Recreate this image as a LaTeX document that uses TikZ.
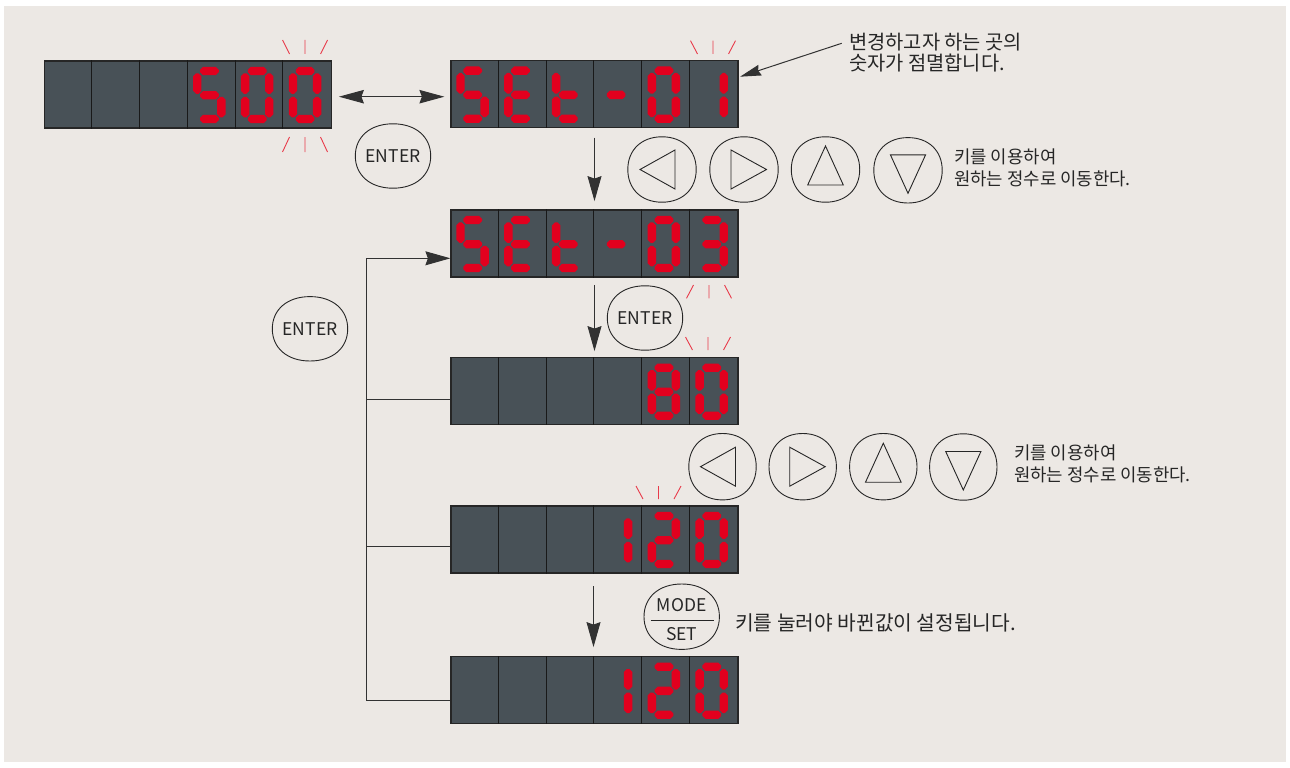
\documentclass[tikz,border=0pt]{standalone}
\usepackage{fontspec}
\setmainfont{Noto Sans CJK KR}
\usetikzlibrary{arrows.meta,calc}
\definecolor{bgc}{RGB}{236,232,228}
\definecolor{dispc}{RGB}{72,81,87}
\definecolor{segc}{RGB}{226,0,30}
\definecolor{blinkc}{RGB}{232,58,74}
\definecolor{inkc}{RGB}{38,38,38}
\definecolor{lnc}{RGB}{50,50,50}

% seven-segment pieces (chamfered bars)
\newcommand\hsg[3]{\fill[segc] (#1,#3-1.2) -- (#1+3,#3-4.2) -- (#2-3,#3-4.2) -- (#2,#3-1.2) -- (#2,#3+1.2) -- (#2-3,#3+4.2) -- (#1+3,#3+4.2) -- (#1,#3+1.2) -- cycle;}
\newcommand\vsg[3]{\fill[segc] (#1-1.2,#2) -- (#1+1.2,#2) -- (#1+4.2,#2+3) -- (#1+4.2,#3-3) -- (#1+1.2,#3) -- (#1-1.2,#3) -- (#1-4.2,#3-3) -- (#1-4.2,#2+3) -- cycle;}
\newcommand\segA{\hsg{\dcx+12.3}{\dcx+31}{\dcy+10}}
\newcommand\segG{\hsg{\dcx+12.3}{\dcx+31}{\dcy+34.2}}
\newcommand\segD{\hsg{\dcx+12.3}{\dcx+31}{\dcy+58}}
\newcommand\segF{\vsg{\dcx+9.5}{\dcy+12.3}{\dcy+32.8}}
\newcommand\segE{\vsg{\dcx+9.5}{\dcy+35.8}{\dcy+56.3}}
\newcommand\segB{\vsg{\dcx+33.6}{\dcy+12.3}{\dcy+32.8}}
\newcommand\segC{\vsg{\dcx+33.6}{\dcy+35.8}{\dcy+56.3}}
\def\dgS{A,F,G,C,D}
\def\dgE{A,F,G,E,D}
\def\dgt{F,E,G,D}
\def\dgm{G}
\def\dgz{A,B,C,D,E,F}
\def\dgo{B,C}
\def\dgth{A,B,G,C,D}
\def\dgei{A,B,C,D,E,F,G}
\def\dgtw{A,B,G,E,D}
% #1 display left, #2 display top, #3 cell, #4 segment list macro
\newcommand\dig[4]{\pgfmathsetmacro\dcx{#1+(#3-1)*47.83}\def\dcy{#2}%
  \foreach \s in #4 {\csname seg\s\endcsname}}
% display node: name, centre x, centre y
\newcommand\display[3]{\node[dispbox] (#1) at (#2,#3) {};
  \foreach \k in {1,...,5} \draw[divl] ([xshift={\k*47.83pt}]#1.north west) -- ([xshift={\k*47.83pt}]#1.south west);}
% blink marks: centre x, near y, far y
\newcommand\blink[3]{\draw[blk] (#1-15.5,#2) -- (#1-22.5,#3) (#1,#2) -- (#1,#3) (#1+15.5,#2) -- (#1+22.5,#3);}
% squircle outline round a node
\def\sqk{0.6}
\newcommand\squircle[1]{\draw[sqline] (#1.east)
  .. controls ($(#1.east)!\sqk!(#1.north east)$) and ($(#1.north)!\sqk!(#1.north east)$) .. (#1.north)
  .. controls ($(#1.north)!\sqk!(#1.north west)$) and ($(#1.west)!\sqk!(#1.north west)$) .. (#1.west)
  .. controls ($(#1.west)!\sqk!(#1.south west)$) and ($(#1.south)!\sqk!(#1.south west)$) .. (#1.south)
  .. controls ($(#1.south)!\sqk!(#1.south east)$) and ($(#1.east)!\sqk!(#1.south east)$) .. (#1.east) -- cycle;}

\tikzset{
  dispbox/.style={draw=black!85, line width=1.2pt, fill=dispc, minimum width=287pt, minimum height=67pt, inner sep=0pt},
  divl/.style={draw=black!90, line width=0.9pt},
  blk/.style={draw=blinkc, line width=0.9pt},
  ln/.style={draw=lnc, line width=1pt},
  arr/.style={ln, -{Stealth[length=25pt,width=14pt,inset=2.5pt]}},
  arrtwo/.style={ln, {Stealth[length=25pt,width=13.5pt,inset=2.5pt]}-{Stealth[length=25pt,width=13.5pt,inset=2.5pt]}},
  arrc/.style={ln, -{Stealth[length=21pt,width=11pt,inset=2pt]}},
  sqline/.style={draw=inkc, line width=0.9pt},
  btn/.style={minimum width=75pt, minimum height=64pt, inner sep=0pt, text=inkc, font=\fontsize{17.5}{17.5}\selectfont},
  akey/.style={minimum width=68pt, minimum height=65pt, inner sep=0pt},
  tri/.style={draw=inkc, line width=0.9pt, line join=miter},
  txt/.style={anchor=west, align=left, inner sep=0pt, text=inkc},
  tl/.pic={\draw[tri] (-22,0) -- (13,-19.5) -- (13,19.5) -- cycle;},
  tr/.pic={\draw[tri] (22.5,0) -- (-13,-19.5) -- (-13,19.5) -- cycle;},
  tu/.pic={\draw[tri] (0,-23.5) -- (17.8,15.5) -- (-17.8,15.5) -- cycle;},
  td/.pic={\draw[tri] (0,23) -- (17.6,-15.5) -- (-17.6,-15.5) -- cycle;},
}

\begin{document}
\begin{tikzpicture}[x=1pt,y=-1pt]
\useasboundingbox (0,0) rectangle (1290,768);
\fill[white] (0,0) rectangle (1290,768);
\fill[bgc] (4,6) rectangle (1286,762);

% displays
\display{d1}{187.8}{94.5}
\display{d2}{594.5}{94.2}
\display{d3}{594.5}{243.5}
\display{d4}{594.5}{391.2}
\display{d5}{594.5}{539.5}
\display{d6}{594.5}{690.2}

% digits
\dig{44.3}{61}{4}{\dgS}\dig{44.3}{61}{5}{\dgz}\dig{44.3}{61}{6}{\dgz}
\dig{451}{60.7}{1}{\dgS}\dig{451}{60.7}{2}{\dgE}\dig{451}{60.7}{3}{\dgt}\dig{451}{60.7}{4}{\dgm}\dig{451}{60.7}{5}{\dgz}\dig{451}{60.7}{6}{\dgo}
\dig{451}{210}{1}{\dgS}\dig{451}{210}{2}{\dgE}\dig{451}{210}{3}{\dgt}\dig{451}{210}{4}{\dgm}\dig{451}{210}{5}{\dgz}\dig{451}{210}{6}{\dgth}
\dig{451}{357.7}{5}{\dgei}\dig{451}{357.7}{6}{\dgz}
\dig{451}{506}{4}{\dgo}\dig{451}{506}{5}{\dgtw}\dig{451}{506}{6}{\dgz}
\dig{451}{656.7}{4}{\dgo}\dig{451}{656.7}{5}{\dgtw}\dig{451}{656.7}{6}{\dgz}

% blinking marks
\blink{305}{54}{40}
\blink{305}{137}{152}
\blink{713}{54}{40.7}
\blink{709}{285}{298.3}
\blink{708}{350}{337}
\blink{658.5}{499}{486}

% arrows between displays
\draw[arrtwo, shorten <=7pt, shorten >=6pt] ([yshift=-2.2pt]d1.east) -- ([yshift=-2.5pt]d2.west);
\draw[arr, shorten <=9.4pt, shorten >=8.3pt] (d2.south) -- (d3.north);
\draw[arr, shorten <=7.3pt, shorten >=6pt] (d3.south) -- (d4.north);
\draw[arr, shorten <=12.7pt, shorten >=9pt] ([xshift=-1pt]d5.south) -- ([xshift=-1pt]d6.north);

% loop back
\coordinate (lt) at (366,258.3);
\coordinate (l4) at (366,399);
\coordinate (l5) at (366,546);
\coordinate (lb) at (366,700);
\draw[ln] (lb) -- (lt);
\draw[arr] (lt) -- (lt -| d3.west);
\draw[ln] (l4) -- (l4 -| d4.west);
\draw[ln] (l5) -- (l5 -| d5.west);
\draw[ln] (lb) -- (lb -| d6.west);

% buttons
\node[btn] (e1) at (393,156) {ENTER};
\node[btn] (e2) at (310,328.8) {ENTER};
\node[btn] (e3) at (645,318) {ENTER};
\node[btn, minimum height=65pt] (ms) at (681.7,616.7) {};
\squircle{e1}\squircle{e2}\squircle{e3}\squircle{ms}
\node[inner sep=0pt, text=inkc, font=\fontsize{17.5}{17.5}\selectfont] (msa) at (681.7,605) {MODE};
\node[inner sep=0pt, text=inkc, font=\fontsize{17.5}{17.5}\selectfont] (msb) at (681.7,634) {SET};
\draw[draw=inkc, line width=0.9pt] (650.7,620) -- (714,620);

% arrow keys row 1
\node[akey] (k1) at (662,169.5) {};
\node[akey] (k2) at (744,169.5) {};
\node[akey] (k3) at (825.5,169.5) {};
\node[akey] (k4) at (908,170.3) {};
\squircle{k1}\squircle{k2}\squircle{k3}\squircle{k4}
\pic at (k1.center) {tl};
\pic at (k2.center) {tr};
\pic at (k3.center) {tu};
\pic at (k4.center) {td};

% arrow keys row 2
\node[akey, minimum width=67pt, minimum height=66pt] (m1) at (722.5,466.7) {};
\node[akey, minimum width=67pt, minimum height=66pt] (m2) at (802.7,466.7) {};
\node[akey, minimum width=67pt, minimum height=66pt] (m3) at (883.3,466.7) {};
\node[akey, minimum width=67pt, minimum height=66pt] (m4) at (963.3,467) {};
\squircle{m1}\squircle{m2}\squircle{m3}\squircle{m4}
\pic at (m1.center) {tl};
\pic at (m2.center) {tr};
\pic at (m3.center) {tu};
\pic at (m4.center) {td};

% texts
\node[txt, font=\fontsize{19.8}{21.6}\selectfont] (c0) at (849,52.5) {변경하고자 하는 곳의\\숫자가 점멸합니다.};
\draw[arrc] ([shift={(-7.3,-9.2)}]c0.west) -- ([shift={(1.5,-17.5)}]d2.east);
\node[txt, font=\fontsize{17.8}{22.5}\selectfont] (c1) at (954,168) {키를 이용하여\\원하는 정수로 이동한다.};
\node[txt, font=\fontsize{17.8}{22}\selectfont] (c2) at (1014,464.2) {키를 이용하여\\원하는 정수로 이동한다.};
\node[txt, font=\fontsize{20.3}{20.3}\selectfont] (c3) at (735,623.3) {키를 눌러야 바뀐값이 설정됩니다.};
\end{tikzpicture}
\end{document}
